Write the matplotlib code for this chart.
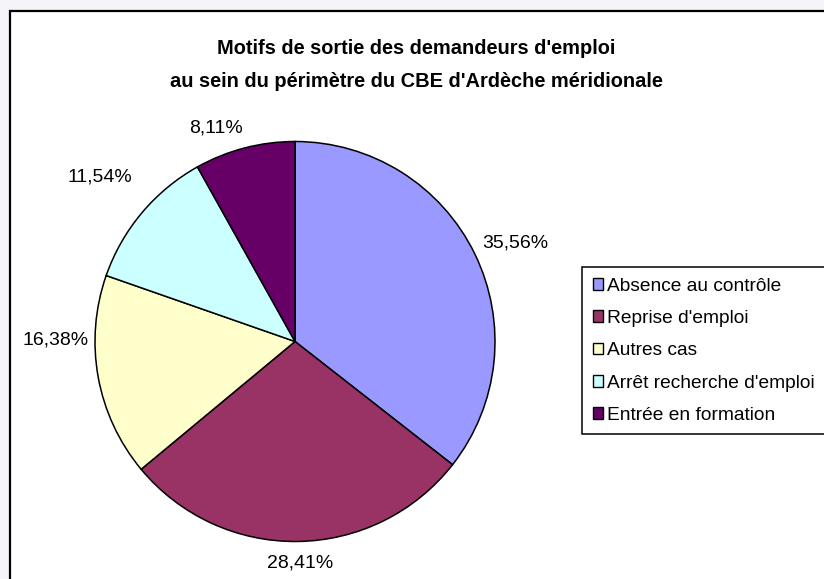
import numpy as np
import matplotlib
matplotlib.use('Agg')
import matplotlib.pyplot as plt
from matplotlib.patches import Rectangle

plt.rcParams['font.family'] = ['Liberation Sans', 'DejaVu Sans']

# donnees
categories = ['Absence au contrôle', "Reprise d'emploi", 'Autres cas',
              "Arrêt recherche d'emploi", 'Entrée en formation']
parts = [35.56, 28.41, 16.38, 11.54, 8.11]
couleurs = ['#9999FF', '#993366', '#FFFFCC', '#CCFFFF', '#660066']
titre = "Motifs de sortie des demandeurs d'emploi\nau sein du périmètre du CBE d'Ardèche méridionale"

# placement des etiquettes (style Excel), distance et decalage angulaire
lab_dist = [1.205, 1.108, 1.195, 1.276, 1.138]
lab_dang = [-1.9, 0.5, -10.6, 0.0, 5.7]

W, H = 824, 579
fig = plt.figure(figsize=(W / 100, H / 100), dpi=100)
fig.patch.set_facecolor('#f4f4f9')

# cadre du graphique
fig.patches.append(Rectangle((10 / W, -0.05), 1.0, 1 - 11 / H + 0.05,
                             transform=fig.transFigure, facecolor='white',
                             edgecolor='black', linewidth=1.6, zorder=-5))

fig.text(416 / W, 1 - 65 / H, titre, ha='center', va='center',
         fontsize=14.4, fontweight='bold', linespacing=1.9)

# camembert
cx, cy, r = 295, 341.5, 200
ax = fig.add_axes([(cx - r) / W, (H - cy - r) / H, 2 * r / W, 2 * r / H])
ax.set_zorder(2)
ax.patch.set_visible(False)
wedges, _ = ax.pie(parts, colors=couleurs, startangle=90, counterclock=False,
                   radius=1, wedgeprops=dict(edgecolor='black', linewidth=1.1))
ax.set_xlim(-1, 1)
ax.set_ylim(-1, 1)
ax.axis('off')

for w, p, d, da in zip(wedges, parts, lab_dist, lab_dang):
    ang = np.deg2rad((w.theta1 + w.theta2) / 2 + da)
    ax.text(d * np.cos(ang), d * np.sin(ang), f'{p:.2f}%'.replace('.', ','),
            ha='center', va='center', fontsize=14, clip_on=False)

leg = fig.legend(wedges, categories, loc='upper left',
                 bbox_to_anchor=(582 / W, 1 - 267 / H), borderaxespad=0,
                 fontsize=13.8, frameon=True, fancybox=False, framealpha=1,
                 edgecolor='black', handlelength=0.55, handleheight=0.55,
                 handletextpad=0.22, labelspacing=0.8, borderpad=0.55)
leg.set_zorder(3)
leg.get_frame().set_linewidth(1.1)
for h in leg.legend_handles:
    h.set_linewidth(1.0)
    h.set_edgecolor('black')

fig.savefig('out.png', dpi=100, facecolor=fig.get_facecolor())
